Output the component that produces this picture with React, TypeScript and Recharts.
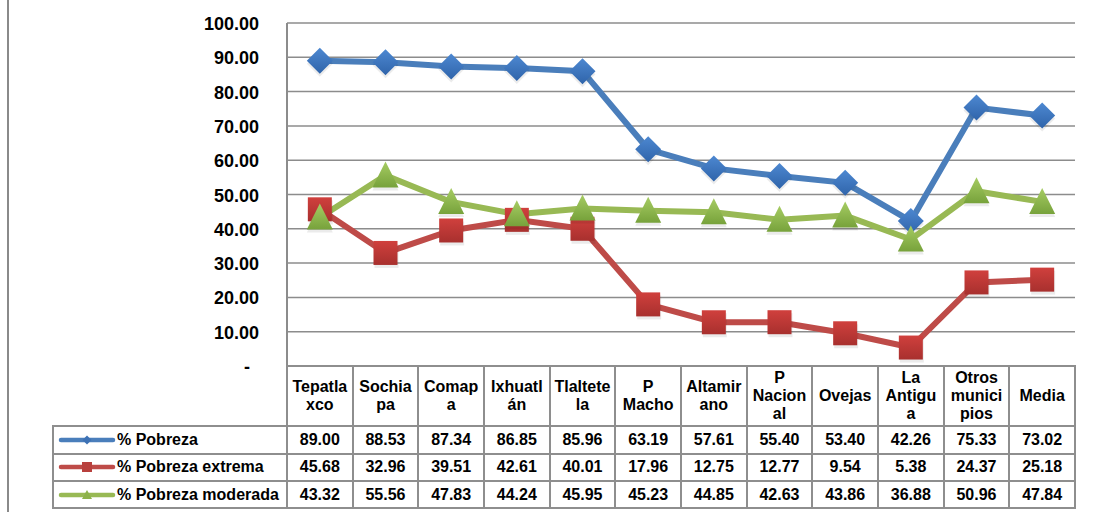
import React from 'react';
import { LineChart, Line, XAxis, YAxis, CartesianGrid } from 'recharts';

const categories = [
  'Tepatlaxco', 'Sochiapa', 'Comapa', 'Ixhuatlán', 'Tlaltetela', 'P Macho',
  'Altamirano', 'P Nacional', 'Ovejas', 'La Antigua', 'Otros municipios', 'Media',
];
const headerLabels = [
  ['Tepatla', 'xco'], ['Sochia', 'pa'], ['Comap', 'a'], ['Ixhuatl', 'án'], ['Tlaltete', 'la'], ['P', 'Macho'],
  ['Altamir', 'ano'], ['P', 'Nacion', 'al'], ['Ovejas'], ['La', 'Antigu', 'a'], ['Otros', 'munici', 'pios'], ['Media'],
];
const pobreza = [89.0, 88.53, 87.34, 86.85, 85.96, 63.19, 57.61, 55.4, 53.4, 42.26, 75.33, 73.02];
const pobrezaExtrema = [45.68, 32.96, 39.51, 42.61, 40.01, 17.96, 12.75, 12.77, 9.54, 5.38, 24.37, 25.18];
const pobrezaModerada = [43.32, 55.56, 47.83, 44.24, 45.95, 45.23, 44.85, 42.63, 43.86, 36.88, 50.96, 47.84];
const yTicks = [0, 10, 20, 30, 40, 50, 60, 70, 80, 90, 100];

const seriesNames = ['% Pobreza', '% Pobreza extrema', '% Pobreza moderada'];
const seriesValues = [pobreza, pobrezaExtrema, pobrezaModerada];

const data = categories.map((c, i) => ({
  name: c,
  pobreza: pobreza[i],
  extrema: pobrezaExtrema[i],
  moderada: pobrezaModerada[i],
}));

// layout
const W = 1093;
const H = 512;
const PLOT_L = 287;
const PLOT_R = 1075;
const PLOT_T = 23;
const PLOT_B = 366;
const COL_W = (PLOT_R - PLOT_L) / categories.length;
const LEGEND_L = 53;
const ROWS = [426, 453.5, 481, 508];
const BORDER = '#8e8e8e';
const FONT = '"Liberation Sans", Arial, sans-serif';

const BLUE = '#4A7EBB';
const RED = '#BE4B48';
const GREEN = '#98B954';

const Diamond = ({ cx, cy, r = 13 }: any) => (
  <g>
    <path d={`M${cx},${cy - r + 3} L${cx + r},${cy + 3} L${cx},${cy + r + 3} L${cx - r},${cy + 3} Z`} fill="#000" opacity={0.08} />
    <path d={`M${cx},${cy - r} L${cx + r},${cy} L${cx},${cy + r} L${cx - r},${cy} Z`} fill="url(#gBlue)" />
  </g>
);
const Square = ({ cx, cy, s = 24 }: any) => (
  <g>
    <rect x={cx - s / 2 + 1} y={cy - s / 2 + 3} width={s} height={s} fill="#000" opacity={0.08} />
    <rect x={cx - s / 2} y={cy - s / 2} width={s} height={s} fill="url(#gRed)" />
  </g>
);
const Triangle = ({ cx, cy, w = 26, h = 24 }: any) => (
  <g>
    <path d={`M${cx},${cy - h / 2 - 2 + 3} L${cx + w / 2},${cy + h / 2 + 3} L${cx - w / 2},${cy + h / 2 + 3} Z`} fill="#000" opacity={0.08} />
    <path d={`M${cx},${cy - h / 2 - 2} L${cx + w / 2},${cy + h / 2} L${cx - w / 2},${cy + h / 2} Z`} fill="url(#gGreen)" />
  </g>
);

const YTick = ({ x, y, payload }: any) => (
  <text
    x={payload.value === 0 ? x - 9 : x}
    y={y + 7}
    textAnchor="end"
    fontFamily={FONT}
    fontWeight="bold"
    fontSize={18}
    fill="#000"
  >
    {payload.value === 0 ? '-' : payload.value.toFixed(2)}
  </text>
);

const LegendKey = ({ idx }: { idx: number }) => {
  const color = [BLUE, RED, GREEN][idx];
  return (
    <svg width={58} height={14} style={{ display: 'block' }}>
      <line x1={3} y1={7} x2={55} y2={7} stroke={color} strokeWidth={4.5} strokeLinecap="round" />
      {idx === 0 && <path d="M29,2.5 L33.5,7 L29,11.5 L24.5,7 Z" fill="#3d72b5" />}
      {idx === 1 && <rect x={24} y={2} width={10} height={10} fill="#b8403d" />}
      {idx === 2 && <path d="M29,2 L34,11 L24,11 Z" fill="#8db24a" />}
    </svg>
  );
};

const hLine = (x1: number, x2: number, y: number, key: string) => (
  <div key={key} style={{ position: 'absolute', left: x1 - 1, top: y - 1, width: x2 - x1 + 2, height: 2, background: BORDER }} />
);
const vLine = (x: number, y1: number, y2: number, key: string) => (
  <div key={key} style={{ position: 'absolute', left: x - 1, top: y1 - 1, width: 2, height: y2 - y1 + 2, background: BORDER }} />
);

const cellText: React.CSSProperties = {
  position: 'absolute',
  display: 'flex',
  alignItems: 'center',
  justifyContent: 'center',
  fontFamily: FONT,
  fontWeight: 'bold',
  fontSize: 16,
  color: '#000',
  textAlign: 'center',
};

export default function App() {
  const lines: React.ReactNode[] = [];
  lines.push(hLine(PLOT_L, PLOT_R, PLOT_B, 'h0'));
  ROWS.forEach((y, i) => lines.push(hLine(LEGEND_L, PLOT_R, y, 'h' + (i + 1))));
  lines.push(vLine(LEGEND_L, ROWS[0], ROWS[3], 'vl'));
  for (let i = 0; i <= categories.length; i++) {
    lines.push(vLine(PLOT_L + i * COL_W, PLOT_B, ROWS[3], 'v' + i));
  }

  return (
    <div style={{ position: 'absolute', left: 0, top: 0, width: W, height: H, background: '#fff', overflow: 'hidden' }}>
      <div style={{ position: 'absolute', left: 7, top: 0, width: 2, height: H, background: '#8a8a8a' }} />
      <div style={{ position: 'absolute', left: 0, top: 0 }}>
        <LineChart
          width={W}
          height={H}
          data={data}
          margin={{ top: PLOT_T, right: W - PLOT_R, bottom: H - PLOT_B, left: PLOT_L - 80 }}
        >
          <defs>
            <linearGradient id="gBlue" x1="0" y1="0" x2="0" y2="1">
              <stop offset="0%" stopColor="#4D88D1" />
              <stop offset="100%" stopColor="#2F64AA" />
            </linearGradient>
            <linearGradient id="gRed" x1="0" y1="0" x2="0" y2="1">
              <stop offset="0%" stopColor="#D0403D" />
              <stop offset="100%" stopColor="#A8302E" />
            </linearGradient>
            <linearGradient id="gGreen" x1="0" y1="0" x2="0" y2="1">
              <stop offset="0%" stopColor="#A6CC63" />
              <stop offset="100%" stopColor="#77A23B" />
            </linearGradient>
          </defs>
          <CartesianGrid vertical={false} stroke="#8c8c8c" strokeWidth={1.5} />
          <XAxis
            dataKey="name"
            hide
            padding={{ left: COL_W / 2, right: COL_W / 2 }}
          />
          <YAxis
            width={80}
            domain={[0, 100]}
            ticks={yTicks}
            interval={0}
            tick={<YTick />}
            tickLine={false}
            axisLine={{ stroke: '#8c8c8c', strokeWidth: 2 }}
            tickMargin={22}
          />
          <Line
            dataKey="pobreza"
            stroke={BLUE}
            strokeWidth={6}
            isAnimationActive={false}
            activeDot={false}
            dot={(p: any) => <Diamond key={'d' + p.index} cx={p.cx} cy={p.cy} />}
          />
          <Line
            dataKey="extrema"
            stroke={RED}
            strokeWidth={6}
            isAnimationActive={false}
            activeDot={false}
            dot={(p: any) => <Square key={'s' + p.index} cx={p.cx} cy={p.cy} />}
          />
          <Line
            dataKey="moderada"
            stroke={GREEN}
            strokeWidth={6}
            isAnimationActive={false}
            activeDot={false}
            dot={(p: any) => <Triangle key={'t' + p.index} cx={p.cx} cy={p.cy} />}
          />
        </LineChart>
      </div>

      {/* data table */}
      {headerLabels.map((lbl, i) => (
        <div
          key={'hd' + i}
          style={{ ...cellText, left: PLOT_L + i * COL_W, top: PLOT_B, width: COL_W, height: ROWS[0] - PLOT_B, lineHeight: '18px', flexDirection: 'column' }}
        >
          {lbl.map((t, j) => (
            <div key={j}>{t}</div>
          ))}
        </div>
      ))}
      {seriesNames.map((name, r) => (
        <div
          key={'lg' + r}
          style={{ ...cellText, justifyContent: 'flex-start', left: 58, top: ROWS[r], width: PLOT_L - 58, height: ROWS[r + 1] - ROWS[r] }}
        >
          <LegendKey idx={r} />
          <span style={{ marginLeft: 1 }}>{name}</span>
        </div>
      ))}
      {seriesValues.map((vals, r) =>
        vals.map((v, i) => (
          <div
            key={'c' + r + '-' + i}
            style={{ ...cellText, left: PLOT_L + i * COL_W, top: ROWS[r], width: COL_W, height: ROWS[r + 1] - ROWS[r] }}
          >
            {v.toFixed(2)}
          </div>
        ))
      )}
      {lines}
    </div>
  );
}
